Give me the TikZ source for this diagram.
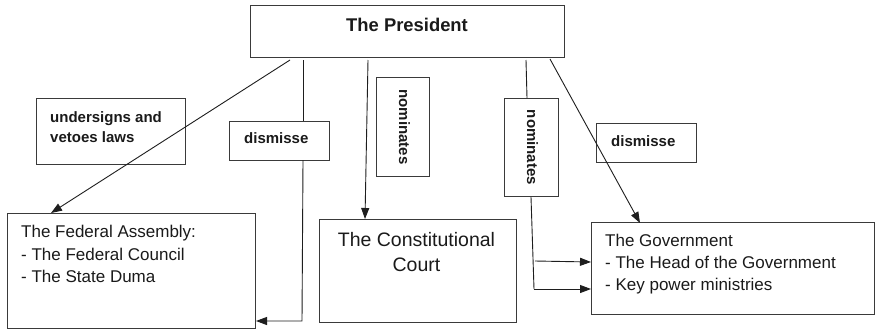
\documentclass[tikz,border=0pt]{standalone}
\usepackage{fontspec}
\setmainfont{Liberation Sans}
\usetikzlibrary{arrows.meta,calc}
\definecolor{boxc}{HTML}{3A3A3A}
\definecolor{linec}{HTML}{1E1E1E}
\definecolor{txtc}{HTML}{1A1A1A}
\begin{document}
\begin{tikzpicture}[x=1pt,y=-1pt,
  box/.style={draw=boxc, line width=1pt, anchor=north west, inner sep=0pt},
  lbl/.style={font=\fontsize{15}{18}\selectfont\bfseries, text=txtc, inner sep=0pt, anchor=base west},
  txt/.style={font=\fontsize{17}{22}\selectfont, text=txtc, inner sep=0pt, anchor=base west},
  conn/.style={draw=linec, line width=0.9pt},
  arr/.style={conn, -{Triangle[length=11pt,width=8pt]}}]
\useasboundingbox (0,0) rectangle (875,330);
\fill[white] (0,0) rectangle (875,330);
% boxes
\node[box, minimum width=314pt, minimum height=52pt] (pres) at (250,5) {};
\node[box, minimum width=149pt, minimum height=66pt] (und) at (36,98) {};
\node[box, minimum width=100pt, minimum height=39pt] (dis1) at (229,121) {};
\node[box, minimum width=53pt, minimum height=99pt] (nom1) at (376,77) {};
\node[box, minimum width=54pt, minimum height=98pt] (nom2) at (504,98) {};
\node[box, minimum width=100pt, minimum height=39pt] (dis2) at (596,123) {};
\node[box, minimum width=248pt, minimum height=115pt] (fa) at (7,213) {};
\node[box, minimum width=197pt, minimum height=103pt] (cc) at (319,219) {};
\node[box, minimum width=283pt, minimum height=92pt] (gov) at (591,222) {};
% texts
\node[lbl, font=\fontsize{18.4}{22}\selectfont\bfseries] (presT) at (346,31) {The President};
\node[lbl] (undT1) at (50,122) {undersigns and};
\node[lbl] (undT2) at (50,142.5) {vetoes laws};
\node[lbl] (dis1T) at (244,143) {dismisse};
\node[lbl] (dis2T) at (611,146) {dismisse};
\node[lbl, anchor=center, rotate=-90] (nom1T) at ($(nom1.center)+(1.5,0)$) {nominates};
\node[lbl, anchor=center, rotate=-90] (nom2T) at ($(nom2.center)+(1,0)$) {nominates};
\node[txt] (faT1) at (21,237.5) {The Federal Assembly:};
\node[txt] (faT2) at (21,260) {- The Federal Council};
\node[txt] (faT3) at (21,282) {- The State Duma};
\node[txt, font=\fontsize{19.5}{24}\selectfont, anchor=base] (ccT1) at (416.5,246) {The Constitutional};
\node[txt, font=\fontsize{19.5}{24}\selectfont, anchor=base] (ccT2) at (416.5,271.7) {Court};
\node[txt] (govT1) at (605,246.3) {The Government};
\node[txt] (govT2) at (605,268.5) {- The Head of the Government};
\node[txt] (govT3) at (605,290) {- Key power ministries};
% connector anchors
\coordinate (s1) at (290,60);
\coordinate (s2) at (303.3,60);
\coordinate (s3) at (368,60);
\coordinate (s4) at (526,60);
\coordinate (s5) at (550,59);
\coordinate (d1b) at (302,321);
\coordinate (n2b) at (534,289);
\coordinate (n2m) at (535,261);
% connectors
\draw[arr] (s1) -- ($(fa.north west)+(44,0)$);
\draw[conn] (s2) -- (s2 |- dis1.north);
\draw[arr] (303,160) -- (d1b) -- (d1b -| fa.east);
\draw[arr] (s3) -- ($(cc.north west)+(46,0)$);
\draw[conn] (s4) -- ($(nom2.north west)+(23,0)$);
\draw[conn] ($(nom2.south west)+(27,0)$) -- (n2b);
\draw[arr] (n2b) -- (n2b -| gov.west);
\draw[arr] (n2m) -- ($(gov.north west)+(0,40)$);
\draw[arr] (s5) -- ($(gov.north west)+(49,1)$);
\end{tikzpicture}
\end{document}
